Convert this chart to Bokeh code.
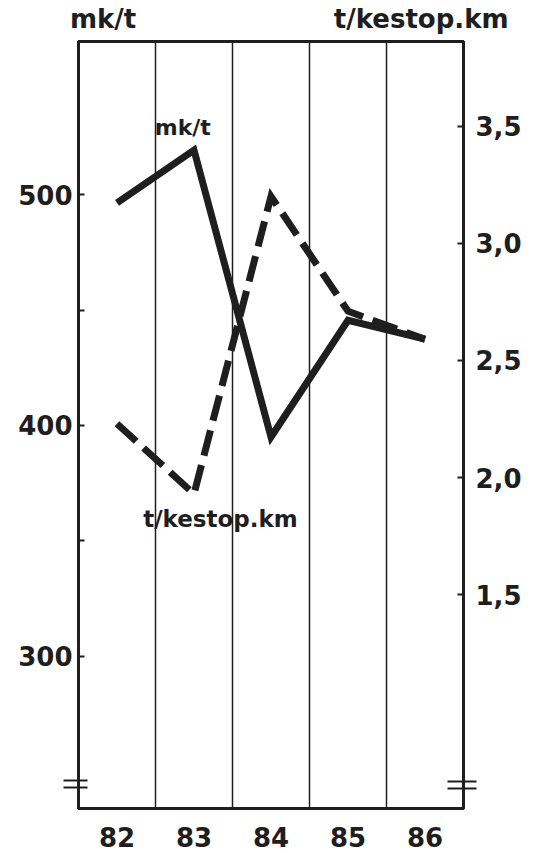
from bokeh.plotting import figure
from bokeh.models import Range1d, LinearAxis, FixedTicker, Label
from bokeh.embed import file_html
from bokeh.resources import INLINE

# ---- data ----
years = [82, 83, 84, 85, 86]
year_labels = ["82", "83", "84", "85", "86"]
mk_t = [496.5, 519.4, 395.0, 445.6, 437.4]          # left axis, mk/t (solid)
t_km = [2.23, 1.93, 3.20, 2.71, 2.59]               # right axis, t/kestop.km (dashed)
left_ticks = [300, 350, 400, 450, 500]
left_tick_labels = {300: "300", 350: "", 400: "400", 450: "", 500: "500"}
right_ticks = [1.5, 2.0, 2.5, 3.0, 3.5]
right_tick_labels = {1.5: "1,5", 2.0: "2,0", 2.5: "2,5", 3.0: "3,0", 3.5: "3,5"}
year_bounds = [82.5, 83.5, 84.5, 85.5]
left_break = [243.0, 246.0]          # axis-break marks (left scale)
right_break = [0.672, 0.702]         # axis-break marks (right scale)
title_left, title_right = "mk/t", "t/kestop.km"

INK = "#1e1e1e"
FONT = "DejaVu Sans"

p = figure(width=534, height=853,
           x_range=Range1d(81.5, 86.5), y_range=Range1d(233.9, 566.5),
           output_backend="svg", toolbar_location=None,
           min_border_left=78, min_border_right=71,
           min_border_top=38, min_border_bottom=45)
p.extra_y_ranges = {"right": Range1d(0.588, 3.861)}
p.add_layout(LinearAxis(y_range_name="right"), "right")

p.background_fill_color = "white"
p.border_fill_color = "white"
p.outline_line_color = INK
p.outline_line_width = 3

# x axis
xa = p.below[0]
xa.ticker = FixedTicker(ticks=years)
xa.major_label_overrides = {y: l for y, l in zip(years, year_labels)}
xa.major_tick_line_color = None
xa.minor_tick_line_color = None
xa.axis_line_color = INK
xa.axis_line_width = 3
xa.major_label_text_font = FONT
xa.major_label_text_font_style = "bold"
xa.major_label_text_font_size = "26px"
xa.major_label_text_color = INK
xa.major_label_standoff = 12

# top axis carrying the two scale titles
title_pos = [81.82, 85.95]
ta = LinearAxis(ticker=FixedTicker(ticks=title_pos),
                major_label_overrides={title_pos[0]: title_left, title_pos[1]: title_right})
ta.axis_line_color = INK
ta.axis_line_width = 3
ta.major_tick_line_color = None
ta.minor_tick_line_color = None
ta.major_label_text_font = FONT
ta.major_label_text_font_style = "bold"
ta.major_label_text_font_size = "26px"
ta.major_label_text_color = INK
ta.major_label_standoff = 2
p.add_layout(ta, "above")

# left axis
la = p.left[0]
la.ticker = FixedTicker(ticks=left_ticks, minor_ticks=left_break)
la.major_label_overrides = left_tick_labels
la.major_tick_in = 6
la.major_tick_out = 0
la.major_tick_line_width = 2
la.major_tick_line_color = INK
la.minor_tick_in = 9
la.minor_tick_out = 15
la.minor_tick_line_width = 2
la.minor_tick_line_color = INK
la.axis_line_color = INK
la.axis_line_width = 3
la.major_label_text_font = FONT
la.major_label_text_font_style = "bold"
la.major_label_text_font_size = "26px"
la.major_label_text_color = INK
la.major_label_standoff = -9

# right axis
ra = p.right[0]
ra.ticker = FixedTicker(ticks=right_ticks, minor_ticks=right_break)
ra.major_label_overrides = right_tick_labels
ra.major_tick_in = 6
ra.major_tick_out = 0
ra.major_tick_line_width = 2
ra.major_tick_line_color = INK
ra.minor_tick_in = 16
ra.minor_tick_out = 13
ra.minor_tick_line_width = 2
ra.minor_tick_line_color = INK
ra.axis_line_color = INK
ra.axis_line_width = 3
ra.major_label_text_font = FONT
ra.major_label_text_font_style = "bold"
ra.major_label_text_font_size = "26px"
ra.major_label_text_color = INK
ra.major_label_standoff = -1

# grid: vertical separators between years only
p.ygrid.visible = False
p.xgrid.ticker = FixedTicker(ticks=year_bounds)
p.xgrid.grid_line_color = INK
p.xgrid.grid_line_width = 1.5

# series
p.line(years, mk_t, line_width=7, line_color=INK, line_join="miter")
p.line(years, t_km, y_range_name="right", line_width=7, line_color=INK,
       line_dash="26 10", line_join="miter")

# in-plot series labels
p.add_layout(Label(x=82.49, y=529.4, text="mk/t", text_font=FONT,
                   text_font_style="bold", text_font_size="22px",
                   text_color=INK, text_baseline="middle"))
p.add_layout(Label(x=82.34, y=359.6, text="t/kestop.km", text_font=FONT,
                   text_font_style="bold", text_font_size="23px",
                   text_color=INK, text_baseline="middle"))

open("out.html", "w").write(file_html(p, INLINE))
